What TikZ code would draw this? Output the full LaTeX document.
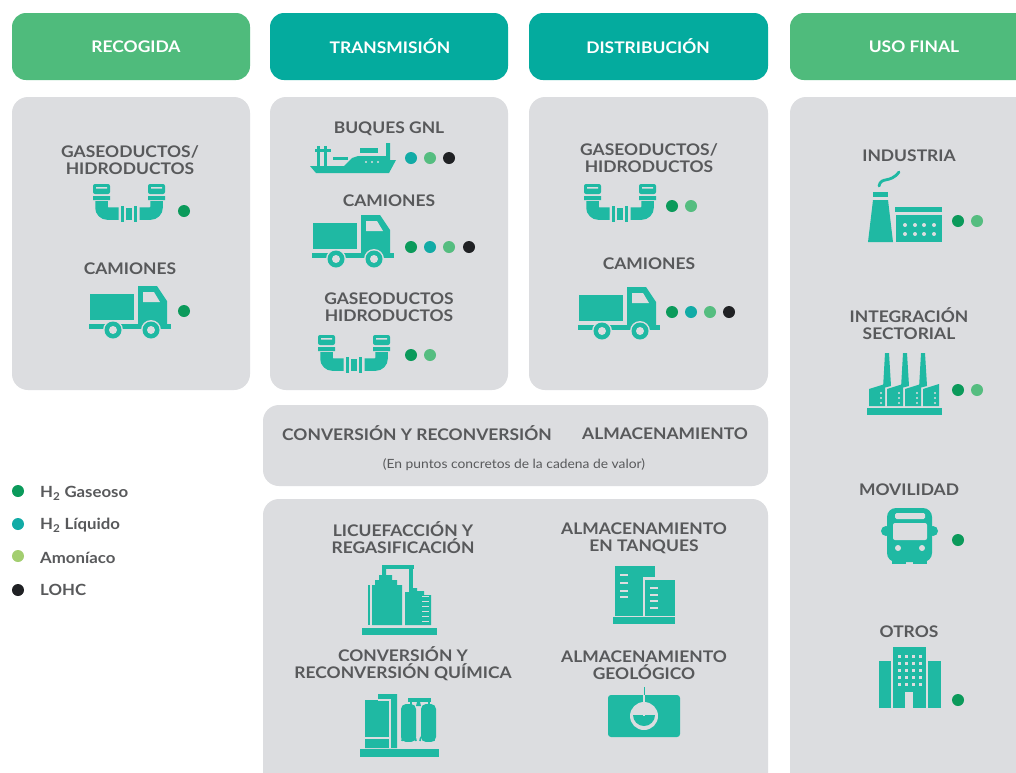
\documentclass[tikz,border=0pt]{standalone}
\usepackage{fontspec}
\setmainfont[FakeStretch=1.09]{Lato}
\definecolor{icon}{HTML}{1FB9A3}
\definecolor{hgreen}{HTML}{4FBB7C}
\definecolor{hteal}{HTML}{04AB9E}
\definecolor{panel}{HTML}{DCDDE0}
\definecolor{txt}{HTML}{58595B}
\definecolor{dg}{HTML}{0B9A5B}
\definecolor{dt}{HTML}{12ABA6}
\definecolor{dl}{HTML}{55BD80}
\definecolor{da}{HTML}{A3CE70}
\definecolor{dk}{HTML}{202124}
\tikzset{
  x=1pt,y=-1pt,
  panelbox/.style={fill=panel,rounded corners=16pt},
  headbox/.style={rounded corners=14pt},
  headtxt/.style={text=white,font=\fontsize{16}{17}\selectfont\bfseries,inner sep=0pt,yshift=-0.5pt},
  lbl/.style={text=txt,font=\fontsize{16}{17}\selectfont\bfseries,align=center,inner sep=0pt,yshift=-1pt},
  leg/.style={text=txt,font=\fontsize{15.4}{16}\selectfont\bfseries,anchor=west,inner sep=0pt,yshift=-1pt},
  ic/.style={fill=icon},
  cut/.style={fill=panel},
  cutl/.style={draw=panel,line width=1.3pt},
  truck/.pic={
    \fill[ic] (3,9) rectangle (47,35);
    \fill[ic] (51,1) -- (70,1) -- (80,16) -- (80,39) -- (51,39) -- cycle;
    \fill[cut] (56,7) -- (67,7) -- (73,17) -- (56,17) -- cycle;
    \fill[ic] (2,39) rectangle (84,44);
    \fill[cut] (26,45) circle (10);
    \fill[cut] (64,45) circle (10);
    \fill[ic] (26,45) circle (8.5);
    \fill[cut] (26,45) circle (4);
    \fill[ic] (64,45) circle (8.5);
    \fill[cut] (64,45) circle (4);
  },
  pipes/.pic={
    \fill[ic,rounded corners=2pt] (1,0) rectangle (18,10);
    \fill[ic,rounded corners=2pt] (56,0) rectangle (73,10);
    \fill[cut] (4,3) rectangle (15,4.5) (59,3) rectangle (70,4.5);
    \fill[ic] (1,12) rectangle (18,16) (56,12) rectangle (73,16);
    \draw[icon,line width=12.5pt,rounded corners=6pt] (9.5,17) -- (9.5,29.5) -- (26.5,29.5);
    \draw[icon,line width=12.5pt,rounded corners=6pt] (64.5,17) -- (64.5,29.5) -- (47.5,29.5);
    \fill[ic] (29,22) rectangle (32,38);
    \fill[ic] (34,24) rectangle (40,36);
    \fill[ic] (42,22) rectangle (45,38);
  },
}
\newcommand{\dotat}[3]{\fill[#1] (#2,#3) circle (6);}
\begin{document}
\begin{tikzpicture}
\clip (0,0) rectangle (1016,772);
\fill[white] (0,0) rectangle (1016,772);
% headers
\fill[hgreen,headbox] (12,13) rectangle (250,80);
\fill[hteal,headbox] (270,13) rectangle (508,80);
\fill[hteal,headbox] (529,13) rectangle (768,80);
\fill[hgreen,headbox] (790,13) rectangle (1040,80);
\node[headtxt] (h1) at (136,46) {RECOGIDA};
\node[headtxt] (h2) at (390,46) {TRANSMISIÓN};
\node[headtxt] (h3) at (648,46) {DISTRIBUCIÓN};
\node[headtxt] (h4) at (914,46) {USO FINAL};
% panels
\fill[panelbox] (12,97) rectangle (250,390);
\fill[panelbox] (270,97) rectangle (508,390);
\fill[panelbox] (529,97) rectangle (768,390);
\fill[panelbox] (790,97) rectangle (1040,800);
\fill[panelbox] (263,405) rectangle (768,486);
\fill[panelbox] (263,499) rectangle (768,800);
% labels
\node[lbl] (a1) at (130,159) {GASEODUCTOS/\\HIDRODUCTOS};
\node[lbl] (a2) at (130,268) {CAMIONES};
\node[lbl] (b1) at (389,128) {BUQUES GNL};
\node[lbl] (b2) at (389,200) {CAMIONES};
\node[lbl] (b3) at (389,306) {GASEODUCTOS\\HIDRODUCTOS};
\node[lbl] (c1) at (649,157) {GASEODUCTOS/\\HIDRODUCTOS};
\node[lbl] (c2) at (649,263) {CAMIONES};
\node[lbl] (d1) at (909,155) {INDUSTRIA};
\node[lbl] (d2) at (909,323) {INTEGRACIÓN\\SECTORIAL};
\node[lbl] (d3) at (909,489) {MOVILIDAD};
\node[lbl] (d4) at (909,631) {OTROS};
\node[lbl] (e1) at (417,432) {CONVERSIÓN Y RECONVERSIÓN};
\node[lbl] (e2) at (665,433) {ALMACENAMIENTO};
\node[text=txt,font=\fontsize{12.7}{13}\selectfont,inner sep=0pt] (e3) at (514,465) {(En puntos concretos de la cadena de valor)};
\node[lbl] (f1) at (403,537) {LICUEFACCIÓN Y\\REGASIFICACIÓN};
\node[lbl] (f2) at (644,537) {ALMACENAMIENTO\\EN TANQUES};
\node[lbl] (f3) at (403,663) {CONVERSIÓN Y\\RECONVERSIÓN QUÍMICA};
\node[lbl] (f4) at (644,664) {ALMACENAMIENTO\\GEOLÓGICO};
% legend
\dotat{dg}{18}{491}\dotat{dt}{18}{524}\dotat{da}{18}{556}\dotat{dk}{18}{590}
\node[leg] (l1) at (40,492) {H\textsubscript{2} Gaseoso};
\node[leg] (l2) at (40,524) {H\textsubscript{2} Líquido};
\node[leg] (l3) at (40,557) {Amoníaco};
\node[leg] (l4) at (40,589) {LOHC};
% dots
\dotat{dg}{184}{211}\dotat{dg}{184}{311}
\dotat{dt}{411}{158}\dotat{dl}{430}{158}\dotat{dk}{449}{158}
\dotat{dg}{411}{247}\dotat{dt}{430}{247}\dotat{dl}{449}{247}\dotat{dk}{469}{247}
\dotat{dg}{411}{355}\dotat{dl}{430}{355}
\dotat{dg}{672}{206}\dotat{dl}{691}{206}
\dotat{dg}{672}{312}\dotat{dt}{691}{312}\dotat{dl}{710}{312}\dotat{dk}{729}{312}
\dotat{dg}{958}{221}\dotat{dl}{977}{221}
\dotat{dg}{958}{390}\dotat{dl}{977}{390}
\dotat{dg}{958}{540}\dotat{dg}{958}{700}
% trucks and pipes
\pic at (87,285) {truck};
\pic at (310,214) {truck};
\pic at (576,286) {truck};
\pic at (92,184) {pipes};
\pic at (317,335) {pipes};
\pic at (583,184) {pipes};
% ship
\fill[ic] (310,166) -- (344,166) -- (352,158) -- (358,156) -- (386,156) -- (386,143) -- (390,143) -- (390,160) -- (396,160) -- (389,173) -- (316,173) -- cycle;
\fill[ic] (360,148) rectangle (378,153);
\fill[ic] (317,146) rectangle (320,166);
\fill[ic] (324,146) rectangle (327,166);
\fill[ic] (315,149) rectangle (331,152);
\fill[ic] (333,157) rectangle (348,160);
\fill[cut] (366,162) circle (1.2) (372,162) circle (1.2) (378,162) circle (1.2);
% industria
\draw[icon,line width=2.8pt,line cap=round] (879,186) .. controls (881,176) and (890,184) .. (899,172);
\fill[ic] (873,192) rectangle (888,197);
\fill[ic] (873,200) -- (888,200) -- (893,242) -- (868,242) -- cycle;
\fill[ic] (895,207) rectangle (942,212);
\fill[ic] (896,215) rectangle (942,242);
\foreach \px in {905,915,924,934}\foreach \py in {225,234}{\fill[cut] (\px,\py) circle (2);}
% integracion
\fill[ic] (867,408) rectangle (942,415);
\foreach \dx in {0,18,36}{
  \fill[ic] (885+\dx,353) -- (889+\dx,353) -- (891+\dx,386) -- (883+\dx,388) -- cycle;
}
\foreach \dx in {0,18,36,54}{
  \fill[ic] (869+\dx,389) -- (885+\dx,384) -- (885+\dx,406) -- (869+\dx,406) -- cycle;
  \fill[cut] (881+\dx,393) circle (1.2) (881+\dx,398) circle (1.2) (881+\dx,403) circle (1.2);
}
% bus
\fill[ic,rounded corners=9pt] (887,508) rectangle (932,562);
\fill[ic] (892,556) rectangle (906,564);
\fill[ic] (913,556) rectangle (927,564);
\fill[ic] (886,531) circle (5) (933,531) circle (5);
\fill[cut,rounded corners=2pt] (893,523) rectangle (927,540);
\fill[cut,rounded corners=1.5pt] (895,513) rectangle (925,519);
\fill[cut] (898,548) circle (3) (922,548) circle (3);
% otros
\fill[ic] (879,661) rectangle (891,708);
\fill[ic] (928,661) rectangle (941,708);
\fill[ic] (893,647) rectangle (926,708);
\foreach \px in {899,906,913,920}\foreach \py in {656,663,670,677,684}{\fill[cut] (\px-1.5,\py-1.5) rectangle (\px+1.5,\py+1.5);}
\fill[cut] (905,692) rectangle (913,708);
% licuefaccion
\fill[ic] (362,628) rectangle (437,635);
\fill[ic] (382,565) rectangle (414,569);
\fill[ic] (409,565) rectangle (413,592);
\fill[ic] (372,625) -- (372,585) -- (375,585) -- (375,580) -- (379,580) -- (379,575) -- (382,575) -- (382,565) -- (386,565) -- (386,575) -- (392,575) -- (392,580) -- (397,580) -- (397,585) -- (402,585) -- (402,625) -- cycle;
\fill[ic] (368,585) rectangle (370,625);
\fill[ic] (405,625) -- (405,592) -- (409,592) -- (409,588) -- (417,588) -- (417,591) -- (424,591) -- (424,595) -- (431,595) -- (431,625) -- cycle;
\foreach \py in {597,602,607,612,617,622}{\fill[cut] (422,\py-1) rectangle (429,\py);}
% tanques
\fill[ic] (613,617) rectangle (675,624);
\fill[ic] (615,566) rectangle (655,616);
\fill[panel] (643,577) rectangle (676,616);
\fill[ic] (645,580) rectangle (675,616);
\foreach \py in {574,582,590,596}{\fill[cut] (620,\py) rectangle (628,\py+1.6);}
\foreach \py in {587,594,600,607}{\fill[cut] (650,\py) rectangle (658,\py+1.6);}
% conversion
\fill[ic] (360,749) rectangle (439,757);
\fill[ic] (365,700) -- (378,700) -- (378,694) -- (397,694) -- (397,748) -- (365,748) -- cycle;
\draw[cutl] (378,700) -- (390,700) -- (390,748);
\draw[cutl] (365,738) -- (390,738);
\fill[ic,rounded corners=5pt] (401,704) rectangle (416,742);
\fill[ic,rounded corners=5pt] (421,704) rectangle (436,742);
\fill[ic] (408,698) rectangle (431,702);
\fill[ic] (410,702) rectangle (412,706);
\fill[ic] (428,702) rectangle (430,706);
\fill[ic] (417,702) -- (420,702) -- (421,706) -- (416,706) -- cycle;
\fill[cut] (403,742) rectangle (434,749);
\draw[icon,line width=1.6pt] (402,741) arc[start angle=180,end angle=360,radius=7] (420,741) arc[start angle=180,end angle=360,radius=7];
% geologico
\fill[ic,rounded corners=3pt] (608,695) rectangle (680,737);
\fill[cut] (644,716) circle (14);
\fill[ic] (633,715) arc[start angle=180,end angle=0,radius=11] -- cycle;
\draw[cutl] (644,695) -- (644,716);
\draw[icon,line width=1pt] (644,687) -- (644,695);
\end{tikzpicture}
\end{document}
